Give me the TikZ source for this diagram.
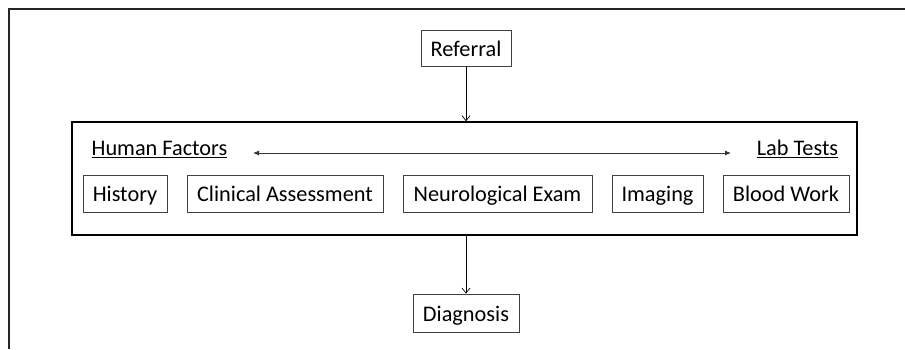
\documentclass[tikz,border=0pt]{standalone}
\usepackage{fontspec}
\setmainfont{Carlito}
\usetikzlibrary{arrows.meta}
\begin{document}
\begin{tikzpicture}[x=1pt,y=-1pt,
  every node/.style={font=\fontsize{22.3}{26}\selectfont, inner sep=0pt,
    text height=16.5pt, text depth=0pt},
  stepbox/.style={draw=black!75, line width=0.8pt, minimum height=37pt},
  flow/.style={draw, line width=0.7pt, -{Straight Barb[length=5pt,width=8pt]}},
  span/.style={draw=black!80, line width=0.8pt, {Latex[length=6pt,width=5pt]}-{Latex[length=6pt,width=5pt]}}
]
\useasboundingbox (0,0) rectangle (905,349);

% open frame: top and left edges only
\draw[line width=2pt, black!85] (905,9) -- (9,9) -- (9,349);

% start and end steps
\node[stepbox, minimum width=90pt, minimum height=36pt] (referral) at (466,48) {Referral};
\node[stepbox, minimum width=106pt, minimum height=38pt] (diagnosis) at (466,313) {Diagnosis};

% assessment group
\node[draw, line width=1.6pt, minimum width=785pt, minimum height=113pt,
  text height=0pt, text depth=0pt] (group) at (464.5,178.5) {};

\node (human) at (159.5,147) {\underline{Human Factors}};
\node (lab) at (797.5,147) {\underline{Lab Tests}};

\node[stepbox, minimum width=84pt] (history) at (125,193.5) {History};
\node[stepbox, minimum width=196pt] (clinical) at (285,193.5) {Clinical Assessment};
\node[stepbox, minimum width=189pt] (neuro) at (497.5,193.5) {Neurological Exam};
\node[stepbox, minimum width=91pt] (imaging) at (657.5,193.5) {Imaging};
\node[stepbox, minimum width=126pt] (blood) at (786,193.5) {Blood Work};

% spectrum between the two kinds of evidence
\coordinate (spanL) at (253,153);
\coordinate (spanR) at (731,153);
\draw[span] (spanL) -- (spanR);

% flow
\draw[flow] (referral.south) -- (referral.south |- group.north);
\draw[flow] (diagnosis.north |- group.south) -- (diagnosis.north);
\end{tikzpicture}
\end{document}
